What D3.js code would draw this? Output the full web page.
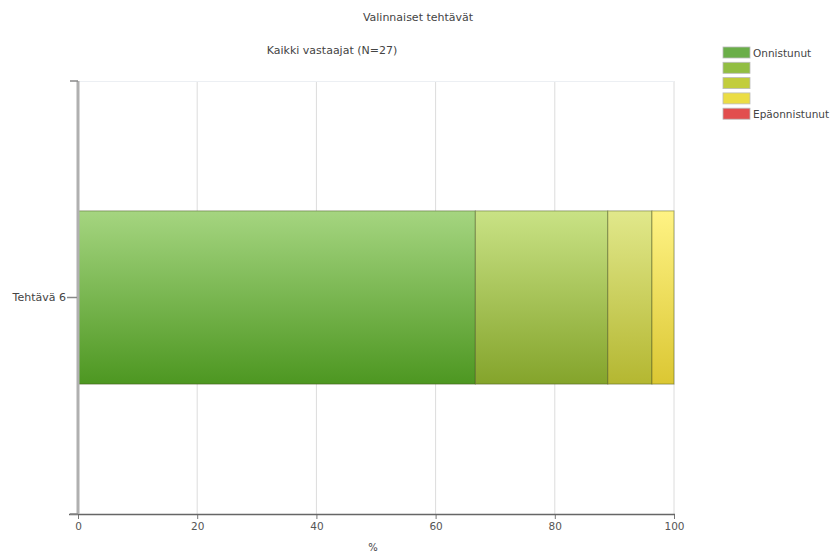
<!DOCTYPE html>
<html><head><meta charset="utf-8">
<script src="https://cdn.jsdelivr.net/npm/d3@7"></script>
<style>body{margin:0;background:#fff}svg{display:block}text{font-family:"DejaVu Sans",Verdana,sans-serif}</style>
</head><body><svg id="c" width="836" height="557"></svg>
<script>
const title = "Valinnaiset tehtävät";
const subtitle = "Kaikki vastaajat (N=27)";
const categories = ["Tehtävä 6"];
const seriesNames = ["Onnistunut", "", "", "", "Epäonnistunut"];
const counts = [18, 6, 2, 1, 0];
const total = 27;
const xTicks = [0, 20, 40, 60, 80, 100];
const xLabel = "%";
const gradTop = ["#a5d580", "#c9e285", "#e1e88b", "#fff384", "#f07272"];
const gradBot = ["#4d9721", "#84a42b", "#b4b731", "#dbc733", "#d83c3c"];
const legendCol = ["#6aae48", "#92be42", "#c2cd3c", "#ebdd44", "#e24e4e"];

const svg = d3.select("#c");
const m = {l: 78, r: 674, t: 81, b: 514};
const x = d3.scaleLinear().domain([0, 100]).range([m.l, m.r]);
const y = d3.scaleBand().domain(categories).range([m.t, m.b]).paddingInner(0.4286).paddingOuter(0.4286);

const defs = svg.append("defs");
gradTop.forEach((c, i) => {
  const g = defs.append("linearGradient").attr("id", "g" + i).attr("x1", 0).attr("y1", 0).attr("x2", 0).attr("y2", 1);
  g.append("stop").attr("offset", "0%").attr("stop-color", c);
  g.append("stop").attr("offset", "100%").attr("stop-color", gradBot[i]);
});

// titles
svg.append("text").attr("x", 418).attr("y", 21).attr("text-anchor", "middle").attr("font-size", 11).attr("fill", "#444").text(title);
svg.append("text").attr("x", 332).attr("y", 54).attr("text-anchor", "middle").attr("font-size", 11).attr("fill", "#444").text(subtitle);

// grid
svg.append("g").selectAll("line").data(xTicks.filter(d => d > 0)).join("line")
  .attr("x1", d => x(d)).attr("x2", d => x(d)).attr("y1", m.t).attr("y2", m.b)
  .attr("stroke", "#dcdcdc").attr("stroke-width", 1);
svg.append("line").attr("x1", m.l).attr("x2", m.r).attr("y1", m.t + 0.5).attr("y2", m.t + 0.5).attr("stroke", "#eceff3");

// bars
categories.forEach((cat, ci) => {
  let acc = 0;
  const segs = counts.map((c, i) => { const v = c / total * 100; const s = {i, x0: acc, x1: acc + v}; acc += v; return s; }).filter(s => s.x1 > s.x0);
  svg.append("g").selectAll("rect").data(segs).join("rect")
    .attr("x", d => x(d.x0)).attr("width", d => x(d.x1) - x(d.x0))
    .attr("y", y(cat)).attr("height", y.bandwidth())
    .attr("fill", d => "url(#g" + d.i + ")")
    .attr("stroke", "rgba(60,70,20,0.45)").attr("stroke-width", 1);
});

// x axis
const xa = svg.append("g").attr("transform", `translate(0,${m.b})`)
  .call(d3.axisBottom(x).tickValues(xTicks).tickSize(5).tickSizeOuter(0));
xa.select(".domain").remove();
xa.append("line").attr("x1", 69).attr("x2", m.r + 1).attr("y1", 0.5).attr("y2", 0.5).attr("stroke", "#666").attr("stroke-width", 1.5);
xa.selectAll(".tick line").attr("stroke", "#777");
xa.selectAll(".tick text").attr("font-size", 10.5).attr("fill", "#555").attr("y", 9);
svg.append("text").attr("x", 373).attr("y", 551).attr("text-anchor", "middle").attr("font-size", 10).attr("fill", "#444").text(xLabel);

// y axis
svg.append("line").attr("x1", m.l).attr("x2", m.l).attr("y1", m.t).attr("y2", m.b).attr("stroke", "#b0b0b0").attr("stroke-width", 3);
const yTickPos = [m.t, m.b];
svg.append("g").selectAll("line").data(yTickPos).join("line")
  .attr("x1", 70).attr("x2", m.l).attr("y1", d => d).attr("y2", d => d).attr("stroke", "#888").attr("stroke-width", 1.5);
const ya = svg.append("g").attr("transform", `translate(${m.l - 1},0)`)
  .call(d3.axisLeft(y).tickSize(10).tickPadding(1));
ya.select(".domain").remove();
ya.selectAll(".tick line").attr("stroke", "#888").attr("stroke-width", 1.5);
ya.selectAll(".tick text").attr("font-size", 11).attr("fill", "#444");

// legend
const lg = svg.append("g").attr("transform", "translate(723,47)");
const items = lg.selectAll("g").data(seriesNames).join("g").attr("transform", (d, i) => `translate(0,${i * 15.3})`);
items.append("rect").attr("width", 27).attr("height", 11).attr("fill", (d, i) => legendCol[i]).attr("stroke", "#bbb").attr("stroke-width", 0.8);
items.append("text").attr("x", 30).attr("y", 10).attr("font-size", 10.5).attr("fill", "#444").text(d => d);
</script></body></html>
